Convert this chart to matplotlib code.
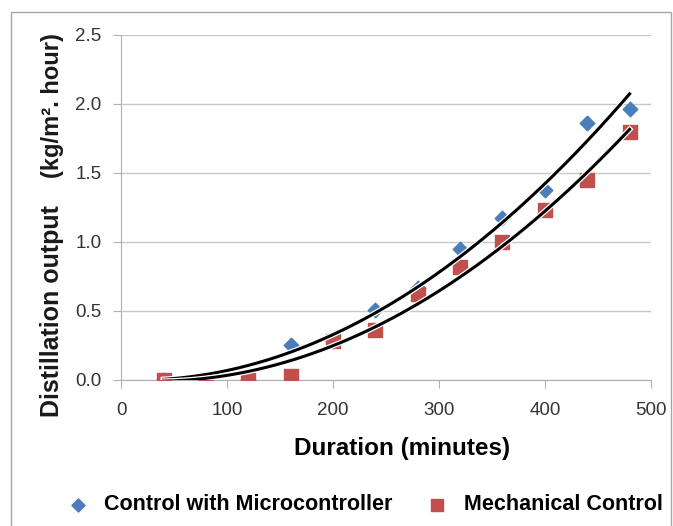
import numpy as np
import matplotlib.pyplot as plt
import matplotlib.patheffects as pe
from matplotlib.patches import Rectangle

# Data
duration = [40, 80, 120, 160, 200, 240, 280, 320, 360, 400, 440, 480]
micro = [0.0, 0.0, 0.0, 0.25, 0.28, 0.51, 0.67, 0.95, 1.17, 1.38, 1.86, 1.96]
mech = [0.0, 0.0, 0.0, 0.03, 0.28, 0.36, 0.62, 0.82, 1.00, 1.23, 1.45, 1.80]
labels = ["Control with Microcontroller", "Mechanical Control"]

plt.rcParams["font.family"] = ["Liberation Sans", "DejaVu Sans"]

fig = plt.figure(figsize=(6.73, 5.26), dpi=100)
ax = fig.add_axes([0.180, 0.2776, 0.787, 0.656])

# outer chart border
fig.patches.append(Rectangle((0.017, -0.01), 0.98, 0.987, transform=fig.transFigure,
                             fill=False, edgecolor="#a6a6a6", linewidth=1.0))

ax.set_xlim(0, 500)
ax.set_ylim(0, 2.5)
ax.set_xticks(np.arange(0, 501, 100))
ax.set_yticks(np.arange(0, 2.51, 0.5))
ax.yaxis.set_major_formatter(plt.FormatStrFormatter("%.1f"))
ax.grid(axis="y", color="#c8c8c8", linewidth=1.0)
ax.set_axisbelow(True)
for s in ["top", "right"]:
    ax.spines[s].set_visible(False)
for s in ["left", "bottom"]:
    ax.spines[s].set_color("#b0b0b0")
ax.tick_params(axis="both", colors="#b0b0b0", labelcolor="#333333", labelsize=13.5,
               length=6, direction="out")
ax.tick_params(axis="x", pad=10)
ax.tick_params(axis="y", pad=8)
ax.spines["bottom"].set_zorder(0)

ax.scatter(duration, micro, marker="D", s=55, color="#4a7ebb", zorder=3, label=labels[0])
ax.scatter(duration, mech, marker="s", s=95, color="#c0504d", zorder=3, label=labels[1])

# polynomial trend lines (order 2, intercept fixed at zero)
x = np.array(duration, dtype=float)
A = np.column_stack([x, x ** 2])
xs = np.linspace(40, 480, 200)
for ys in (micro, mech):
    b, c = np.linalg.lstsq(A, np.array(ys), rcond=None)[0]
    ax.plot(xs, b * xs + c * xs ** 2, color="black", linewidth=2.2, zorder=4,
            path_effects=[pe.Stroke(linewidth=4, foreground="white"), pe.Normal()])

ax.set_xlabel("Duration (minutes)", fontsize=17.5, fontweight="bold")
ax.xaxis.set_label_coords(0.53, -0.165)

fig.text(0.077, 0.207, "Distillation output", rotation=90, fontsize=18, fontweight="bold",
         ha="center", va="bottom", color="#1a1a1a")
fig.text(0.078, 0.662, "(kg/m². hour)", rotation=90, fontsize=17, fontweight="bold",
         ha="center", va="bottom", color="#1a1a1a")

fig.legend(loc="lower left", bbox_to_anchor=(0.08, 0.0), ncol=2, frameon=False,
           prop={"weight": "bold", "size": 15.5}, borderpad=0, handlelength=1.2,
           handletextpad=0.65, columnspacing=1.45, scatterpoints=1, markerscale=0.9)

fig.savefig("out.png", dpi=100)
